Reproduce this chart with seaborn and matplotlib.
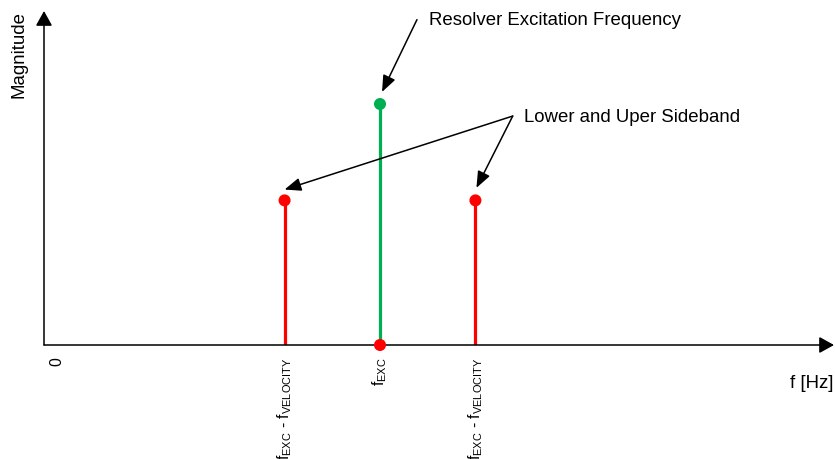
import matplotlib
matplotlib.use("Agg")
import matplotlib.pyplot as plt
from matplotlib.transforms import ScaledTranslation
import pandas as pd
import seaborn as sns

# Spectrum of a resolver signal: carrier plus the two velocity sidebands.
F_EXC = 1.0
F_VEL = 0.284
components = ["lower", "carrier", "upper"]
freqs = [F_EXC - F_VEL, F_EXC, F_EXC + F_VEL]
mags = [0.60, 1.0, 0.60]
comp_colors = {"lower": "#FF0000", "carrier": "#00B050", "upper": "#FF0000"}

tick_pos = [0.0, F_EXC - F_VEL, F_EXC, F_EXC + F_VEL]
tick_labels = ["0",
               r"f$_{\mathrm{EXC}}$ - f$_{\mathrm{VELOCITY}}$",
               r"f$_{\mathrm{EXC}}$",
               r"f$_{\mathrm{EXC}}$ - f$_{\mathrm{VELOCITY}}$"]

sns.set_style("white")
plt.rcParams["font.family"] = ["Liberation Sans", "DejaVu Sans"]
plt.rcParams["mathtext.fontset"] = "custom"
plt.rcParams["mathtext.rm"] = "Liberation Sans"
plt.rcParams["mathtext.default"] = "regular"
plt.rcParams["text.color"] = "black"
plt.rcParams["xtick.color"] = "black"
plt.rcParams["xtick.labelcolor"] = "black"

FS = 13.4

df = pd.DataFrame({"component": components, "freq": freqs, "mag": mags})

fig = plt.figure(figsize=(8.35, 4.6), dpi=100)
W, H = 835, 460
ax = fig.add_axes([44 / W, (H - 346) / H, (834 - 44) / W, (346 - 12) / H])
ax.set_xlim(0, 790 / 336)
ax.set_ylim(0, 334 / 241)
for s in ax.spines.values():
    s.set_visible(False)

# axes drawn as arrows
arrow_kw = dict(arrowstyle="-|>,head_length=0.45,head_width=0.25", color="black",
                lw=1.1, mutation_scale=20, shrinkA=0, shrinkB=0)
ax.annotate("", xy=(1, 0), xytext=(0, 0), xycoords="axes fraction",
            arrowprops=arrow_kw, annotation_clip=False)
ax.annotate("", xy=(0, 1), xytext=(0, 0), xycoords="axes fraction",
            arrowprops=arrow_kw, annotation_clip=False)

# stems
ax.vlines(df["freq"], 0, df["mag"], colors=[comp_colors[c] for c in df["component"]],
          lw=2.3, zorder=2)
sns.scatterplot(data=df, x="freq", y="mag", hue="component", palette=comp_colors,
                s=75, edgecolor="none", legend=False, ax=ax, zorder=3, clip_on=False)
# red dot at the carrier base
sns.scatterplot(x=[F_EXC], y=[0.0], color="#FF0000", s=75, edgecolor="none",
                legend=False, ax=ax, zorder=4, clip_on=False)

ax.set_yticks([])
ax.set_xticks(tick_pos)
ax.set_xticklabels(tick_labels, rotation=90, fontsize=11.3, va="top", color="black")
ax.tick_params(axis="x", length=0, pad=8)
lbl0 = ax.get_xticklabels()[0]
lbl0.set_transform(lbl0.get_transform() + ScaledTranslation(0.13, 0, fig.dpi_scale_trans))
ax.set_xlabel("")
ax.set_ylabel("")

ax.text(-0.032, 0.873, "Magnitude", rotation=90, ha="center", va="center",
        fontsize=FS, transform=ax.transAxes)
ax.text(0.972, -0.111, "f [Hz]", ha="center", va="center", fontsize=FS,
        transform=ax.transAxes)

# annotations
head_kw = dict(arrowstyle="-|>,head_length=0.5,head_width=0.2", color="black",
               lw=1.1, mutation_scale=20, shrinkA=0, shrinkB=0)
ax.annotate("", xy=(1.006, 1.05), xytext=(1.11, 1.35), arrowprops=head_kw)
ax.text(1.146, 1.35, "Resolver Excitation Frequency", fontsize=FS, va="center", ha="left")

start = (1.395, 0.95)
ax.annotate("", xy=(freqs[0], mags[0] + 0.045), xytext=start, arrowprops=head_kw)
ax.annotate("", xy=(freqs[2] + 0.003, mags[2] + 0.052), xytext=start, arrowprops=head_kw)
ax.text(1.43, 0.95, "Lower and Uper Sideband", fontsize=FS, va="center", ha="left")

fig.savefig("out.png", dpi=100)
